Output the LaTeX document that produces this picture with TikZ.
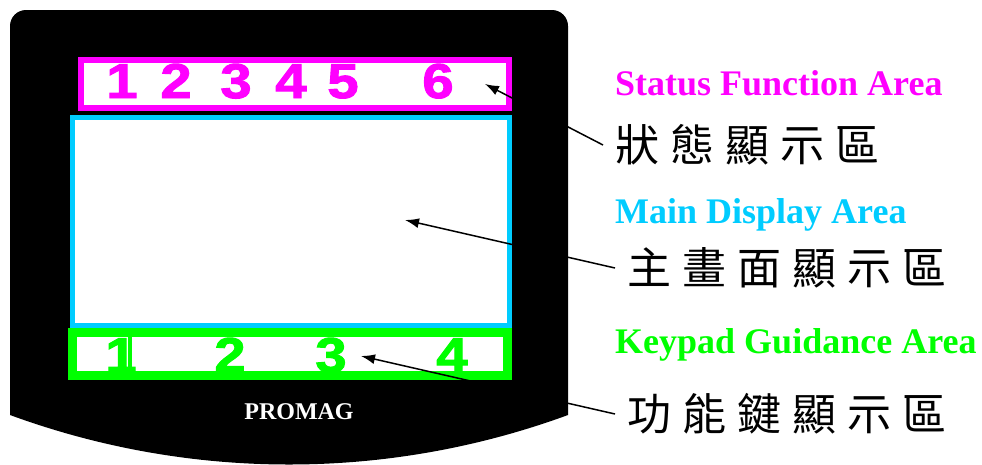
\documentclass[tikz,border=0pt]{standalone}
\usepackage{fontspec}
\setmainfont{Liberation Serif}
\newfontfamily\digitfont[FakeStretch=1.15, FakeBold=2]{Liberation Sans}
\newfontfamily\zhfont[LetterSpace=25]{Noto Sans CJK TC}
\usepackage{tikz}
\usetikzlibrary{positioning}
\usetikzlibrary{arrows.meta}

\definecolor{StatusMagenta}{RGB}{255,0,255}
\definecolor{MainCyan}{RGB}{0,204,255}
\definecolor{KeyGreen}{RGB}{0,255,0}

\tikzset{
	area/.style={fill=white, line width=6pt},
	digit/.style={anchor=base, inner sep=0pt, font=\digitfont\bfseries\fontsize{49}{49}\selectfont},
	areatitle/.style={anchor=base west, inner sep=0pt, font=\bfseries\fontsize{36}{36}\selectfont},
	zhlabel/.style={anchor=west, inner sep=12pt, font=\zhfont\fontsize{44}{44}\selectfont},
	pointer/.style={line width=1.5pt, -{Latex[length=14pt,width=10pt]}},
}

\begin{document}
\begin{tikzpicture}[x=1pt, y=-1pt]
	\useasboundingbox (0,0) rectangle (982,464);
	
	% ---------------------
	% Meter body
	\fill[black] (10,415) -- (10,200) [rounded corners=16pt] -- (10,10) -- (568,10) -- (568,200) [sharp corners] -- (568,415)
		.. controls (388,481) and (190,481) .. cycle;
	
	% ---------------------
	% Display areas
	\draw[area, draw=StatusMagenta] (81,60) rectangle (509,108);
	\draw[area, draw=MainCyan, line width=5.5pt] (72.5,117.5) rectangle (509.5,325.5);
	\draw[area, draw=KeyGreen, line width=8.5pt] (72.5,332.5) rectangle (507.5,375.5);
	\draw[KeyGreen, line width=4.5pt] (130,332.5) -- (130,375.5);
	
	\foreach \n/\x in {1/122, 2/176, 3/236, 4/291, 5/343, 6/438}
		\node[digit, text=StatusMagenta] (status\n) at (\x,98) {\n};
	
	\foreach \n/\x in {1/121, 2/230, 3/331, 4/452}
		\node[digit, text=KeyGreen] (key\n) at (\x,372) {\n};
	
	\node[anchor=base, inner sep=0pt, text=white, font=\bfseries\fontsize{24}{24}\selectfont] (brand) at (299,419) {PROMAG};
	
	% ------------------------------------------------
	% Labels
	\node[areatitle, text=StatusMagenta] (statusEn) at (615,95) {Status Function Area};
	\node[zhlabel] (statusZh) at (603,145) {狀態顯示區};
	
	\node[areatitle, text=MainCyan] (mainEn) at (615,223) {Main Display Area};
	\node[zhlabel] (mainZh) at (615,268) {主畫面顯示區};
	
	\node[areatitle, text=KeyGreen] (keyEn) at (615,353) {Keypad Guidance Area};
	\node[zhlabel] (keyZh) at (615,414) {功能鍵顯示區};
	
	% ------------------------------------------------
	% Pointers
	\coordinate (statusTip) at (485,84);
	\coordinate (mainTip) at (405,220);
	\coordinate (keyTip) at (361,356);
	
	\draw[pointer] (statusZh.west) -- (statusTip);
	\draw[pointer] (mainZh.west) -- (mainTip);
	\draw[pointer] (keyZh.west) -- (keyTip);
	
\end{tikzpicture}
\end{document}
